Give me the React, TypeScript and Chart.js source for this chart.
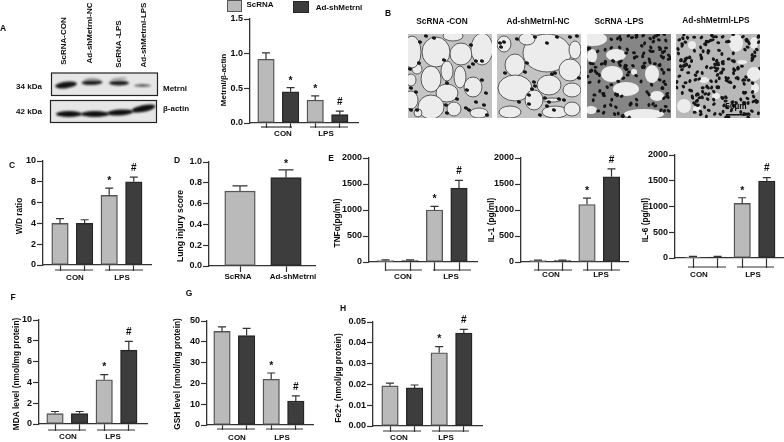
import React, { useEffect, useRef } from "react";
import { Chart, registerables } from "chart.js";

Chart.register(...registerables);

const FONT = '"Liberation Sans", Arial, sans-serif';
const INK = "#0c0c0c";
const AXIS = "#333333";
const LIGHT = "#bababa";
const LIGHT_EDGE = "#565656";
const DARK = "#3d3d3d";
const DARK_EDGE = "#262626";

const seriesNames = ["ScRNA", "Ad-shMetrnl"];
const conditions = ["CON", "LPS"];

const metrnlValues = [0.92, 0.45, 0.33, 0.12];
const metrnlErrTops = [1.01, 0.51, 0.39, 0.17];
const metrnlMarks = ["", "*", "*", "#"];

const wdValues = [4, 4, 6.7, 8];
const wdErrTops = [4.45, 4.35, 7.4, 8.45];
const wdMarks = ["", "", "*", "#"];

const lungValues = [0.72, 0.85];
const lungErrTops = [0.77, 0.925];
const lungMarks = ["", "*"];

const tnfValues = [25, 25, 1000, 1420];
const tnfErrTops = [40, 40, 1070, 1570];
const tnfMarks = ["", "", "*", "#"];

const il1Values = [25, 25, 1105, 1640];
const il1ErrTops = [35, 35, 1230, 1790];
const il1Marks = ["", "", "*", "#"];

const il6Values = [20, 20, 1060, 1495];
const il6ErrTops = [30, 30, 1170, 1560];
const il6Marks = ["", "", "*", "#"];

const mdaValues = [1, 1, 4.25, 7.1];
const mdaErrTops = [1.2, 1.2, 4.75, 7.95];
const mdaMarks = ["", "", "*", "#"];

const gshValues = [45, 43, 22, 11.5];
const gshErrTops = [47.2, 46.5, 25, 14];
const gshMarks = ["", "", "*", "#"];

const feValues = [0.0193, 0.0183, 0.0352, 0.0447];
const feErrTops = [0.0206, 0.0197, 0.0382, 0.0465];
const feMarks = ["", "", "*", "#"];

type Panel = {
  title: string; titleX: number; titleY: number; titleSize: number;
  values: number[]; errTops: number[]; marks: string[];
  max: number; step: number; decimals: number;
  axisX: number; right: number; yTop: number; y0: number;
  c1: number; pitch: number; barW: number; capW: number; tickLen: number;
  spans: number[][]; labelY: number; labels: { t: string; x: number }[];
  markOffset: number;
};

const twoGroups = (a: number, b: number) => [
  { t: conditions[0], x: a },
  { t: conditions[1], x: b },
];

const panels: Panel[] = [
  { title: "Metrnl/β-actin", titleX: 224, titleY: 80, titleSize: 8, values: metrnlValues, errTops: metrnlErrTops, marks: metrnlMarks,
    max: 1.5, step: 0.5, decimals: 1, axisX: 250, right: 358, yTop: 19, y0: 123, c1: 266, pitch: 24.6, barW: 16.5, capW: 8,
    tickLen: 4, spans: [[261, 292], [310, 348]], labelY: 134, labels: twoGroups(283, 326), markOffset: 9 },
  { title: "W/D ratio", titleX: 20, titleY: 216, titleSize: 8.3, values: wdValues, errTops: wdErrTops, marks: wdMarks,
    max: 10, step: 2, decimals: 0, axisX: 43, right: 151, yTop: 161, y0: 265, c1: 60, pitch: 24.6, barW: 16.5, capW: 8,
    tickLen: 5, spans: [[55, 93], [105, 143]], labelY: 278, labels: twoGroups(75, 122), markOffset: 9 },
  { title: "Lung injury score", titleX: 181, titleY: 226, titleSize: 8.6, values: lungValues, errTops: lungErrTops, marks: lungMarks,
    max: 1, step: 0.2, decimals: 1, axisX: 209, right: 315, yTop: 162, y0: 266, c1: 240, pitch: 46, barW: 30.5, capW: 15,
    tickLen: 5, spans: [], labelY: 277, labels: [{ t: seriesNames[0], x: 238 }, { t: seriesNames[1], x: 293 }], markOffset: 8 },
  { title: "TNFα(pg/ml)", titleX: 338, titleY: 223, titleSize: 8.3, values: tnfValues, errTops: tnfErrTops, marks: tnfMarks,
    max: 2000, step: 500, decimals: 0, axisX: 369, right: 477, yTop: 158, y0: 262, c1: 385.5, pitch: 24.5, barW: 16.5, capW: 8,
    tickLen: 8, spans: [[385, 422], [433, 471]], labelY: 277, labels: twoGroups(403, 451), markOffset: 9 },
  { title: "IL-1 (pg/ml)", titleX: 492, titleY: 220, titleSize: 8.3, values: il1Values, errTops: il1ErrTops, marks: il1Marks,
    max: 2000, step: 500, decimals: 0, axisX: 521, right: 628, yTop: 158, y0: 262, c1: 538, pitch: 24.5, barW: 16.5, capW: 8,
    tickLen: 8, spans: [[534, 572], [583, 620]], labelY: 275, labels: twoGroups(551, 601), markOffset: 9 },
  { title: "IL-6 (pg/ml)", titleX: 646, titleY: 220, titleSize: 8.3, values: il6Values, errTops: il6ErrTops, marks: il6Marks,
    max: 2000, step: 500, decimals: 0, axisX: 675, right: 783, yTop: 155, y0: 258, c1: 693, pitch: 24.6, barW: 16.5, capW: 8,
    tickLen: 9, spans: [[688, 726], [737, 774]], labelY: 275, labels: twoGroups(699, 753), markOffset: 9 },
  { title: "MDA level (nmol/mg protein)", titleX: 17, titleY: 374, titleSize: 8.3, values: mdaValues, errTops: mdaErrTops, marks: mdaMarks,
    max: 10, step: 2, decimals: 0, axisX: 39, right: 147, yTop: 320, y0: 424, c1: 55, pitch: 24.6, barW: 16.5, capW: 8,
    tickLen: 6, spans: [[48, 86], [97, 135]], labelY: 437, labels: twoGroups(68, 113), markOffset: 9 },
  { title: "GSH level (nmol/mg protein)", titleX: 178, titleY: 374, titleSize: 8.3, values: gshValues, errTops: gshErrTops, marks: gshMarks,
    max: 50, step: 10, decimals: 0, axisX: 207, right: 313, yTop: 321, y0: 425, c1: 222, pitch: 24.6, barW: 16.5, capW: 8,
    tickLen: 4, spans: [[217, 255], [266, 303]], labelY: 438, labels: twoGroups(237, 282), markOffset: 9 },
  { title: "Fe2+ (nmol/µg protein)", titleX: 339, titleY: 378, titleSize: 8.3, values: feValues, errTops: feErrTops, marks: feMarks,
    max: 0.05, step: 0.01, decimals: 2, axisX: 373, right: 482, yTop: 322, y0: 426, c1: 390, pitch: 24.6, barW: 16.5, capW: 8,
    tickLen: 5, spans: [[383, 421], [432, 469]], labelY: 438, labels: twoGroups(399, 446), markOffset: 9 },
];

const PAD_TOP = 12;
const X_AXIS_H = 26;

function panelPlugin(p: Panel, left: number, top: number) {
  return {
    id: "panelMarks",
    afterDatasetsDraw(chart: any) {
      const { ctx, scales } = chart;
      const xs = scales.x;
      const ys = scales.y;
      ctx.save();
      ctx.strokeStyle = AXIS;
      ctx.fillStyle = INK;
      ctx.lineWidth = 1.2;
      p.values.forEach((v, i) => {
        const x = xs.getPixelForValue(i + 1);
        const yv = ys.getPixelForValue(v);
        const ye = ys.getPixelForValue(p.errTops[i]);
        ctx.beginPath();
        ctx.moveTo(x, yv);
        ctx.lineTo(x, ye);
        ctx.moveTo(x - p.capW / 2, ye);
        ctx.lineTo(x + p.capW / 2, ye);
        ctx.stroke();
        if (p.marks[i]) {
          ctx.font = `bold ${p.marks[i] === "#" ? 10 : 10.5}px ${FONT}`;
          ctx.textAlign = "center";
          ctx.textBaseline = "middle";
          ctx.fillText(p.marks[i], x, ye - p.markOffset + (p.marks[i] === "*" ? 2 : 0));
        }
      });
      const yg = p.y0 - top + p.tickLen;
      p.spans.forEach(([a, b]) => {
        ctx.beginPath();
        ctx.moveTo(a - left, yg);
        ctx.lineTo(b - left, yg);
        ctx.stroke();
      });
      ctx.font = `bold 8px ${FONT}`;
      ctx.textAlign = "center";
      ctx.textBaseline = "middle";
      p.labels.forEach((l) => ctx.fillText(l.t, l.x - left, p.labelY - top));
      ctx.translate(p.titleX - left, p.titleY - top);
      ctx.rotate(-Math.PI / 2);
      ctx.font = `bold ${p.titleSize}px ${FONT}`;
      ctx.fillText(p.title, 0, 0);
      ctx.restore();
    },
  };
}

function BarPanel({ p }: { p: Panel }) {
  const ref = useRef<HTMLCanvasElement>(null);
  const left = p.titleX - 6;
  const top = p.yTop - PAD_TOP;
  const width = p.right - left + 2;
  const height = p.y0 - p.yTop + PAD_TOP + X_AXIS_H;
  useEffect(() => {
    const xMin = 1 - (p.c1 - p.axisX) / p.pitch;
    const xMax = 1 + (p.right - p.c1) / p.pitch;
    const toPoints = (odd: number) =>
      p.values
        .map((y, i) => ({ x: i + 1, y, i }))
        .filter((d) => d.i % 2 === odd)
        .map(({ x, y }) => ({ x, y }));
    const chart = new Chart(ref.current as HTMLCanvasElement, {
      type: "bar",
      data: {
        datasets: [
          { label: seriesNames[0], data: toPoints(0), backgroundColor: LIGHT, borderColor: LIGHT_EDGE },
          { label: seriesNames[1], data: toPoints(1), backgroundColor: DARK, borderColor: DARK_EDGE },
        ],
      },
      options: {
        responsive: false,
        animation: false,
        layout: { padding: { top: PAD_TOP, left: 0, right: 2, bottom: 0 } },
        datasets: { bar: { grouped: false, barThickness: p.barW, borderWidth: 1.4, borderSkipped: false } },
        plugins: { legend: { display: false }, tooltip: { enabled: false } },
        scales: {
          x: {
            type: "linear",
            offset: false,
            min: xMin,
            max: xMax,
            border: { color: AXIS, width: 1.3 },
            grid: { offset: false, drawOnChartArea: false, drawTicks: true, tickLength: p.tickLen + 1, tickColor: AXIS, tickWidth: 1.2 },
            ticks: { display: false },
            afterBuildTicks: (ax: any) => {
              ax.ticks = p.values.map((_, i) => ({ value: i + 1 }));
            },
            afterFit: (ax: any) => {
              ax.height = X_AXIS_H;
            },
          },
          y: {
            type: "linear",
            min: 0,
            max: p.max,
            border: { color: AXIS, width: 1.3 },
            grid: { drawOnChartArea: false, tickLength: 6, tickColor: AXIS, tickWidth: 1.2 },
            ticks: {
              stepSize: p.step,
              padding: 1,
              color: INK,
              font: { family: FONT, weight: "bold", size: 9 },
              callback: (v: any) => Number(v).toFixed(p.decimals),
            },
            afterFit: (ax: any) => {
              ax.width = p.axisX - left;
            },
          },
        },
      },
      plugins: [panelPlugin(p, left, top)],
    } as any);
    return () => chart.destroy();
  }, []);
  return (
    <canvas
      ref={ref}
      width={width}
      height={height}
      style={{ position: "absolute", left, top, width, height }}
    />
  );
}

// ---- micrograph and blot artwork (not chart data) ----
type Blob = number[];
const photoRects = [408, 497, 587, 676];
const alveoli: Blob[][] = [
  [[28,18,14,15],[53,20,11,11],[23,45,10,13],[39,37,6,10],[52,43,6,11],[39,59,11,9],[65,53,9,10],[9,35,5,5],[23,73,13,12],[46,75,7,7],[3,46,5,6],[4,18,9,16],[74,15,11,16],[3,66,7,9],[71,79,9,5],[45,2,10,5],[10,79,4,4]],
  [[18,31,10,11],[50,19,24,19],[18,54,17,13],[52,51,12,10],[73,36,11,11],[37,66,9,10],[75,56,9,7],[7,10,7,8],[78,16,6,9],[13,78,11,6],[58,78,13,6],[55,66,9,2],[30,5,8,6],[75,75,8,7]],
  [[29,21,10,6],[6,5,14,7],[25,40,11,8],[65,40,7,9],[39,55,13,7],[70,62,7,5],[57,80,20,5],[5,22,5,7],[47,38,3,3],[4,76,6,4]],
  [[60,9,7,9],[78,40,7,7],[78,9,4,6],[16,11,4,4],[8,72,7,7],[79,54,4,5],[28,46,5,3],[21,75,4,3],[66,28,5,2],[40,62,4,3]],
];
const edgeNuclei: Blob[][] = [
  [[18,2],[26,4],[12,8],[11,29],[2,35],[3,54],[8,58],[63,11],[68,27],[74,27],[39,49],[36,26],[38,71],[39,79],[58,74],[61,76],[49,65],[74,46],[78,59],[68,68],[76,71],[79,81],[9,76],[3,76],[59,56],[65,30],[61,33]],
  [[3,9],[7,8],[20,5],[38,3],[50,9],[60,3],[30,29],[28,38],[8,39],[37,48],[38,52],[35,55],[22,68],[32,70],[48,64],[50,72],[57,76],[67,66],[82,44],[43,81],[32,61],[58,39],[55,40],[80,2],[73,3],[4,13],[52,68],[62,65]],
];
const frac = (v: number) => v - Math.floor(v);

function PhotoLayer() {
  const ref = useRef<HTMLCanvasElement>(null);
  useEffect(() => {
    const c = ref.current as HTMLCanvasElement;
    const ctx = c.getContext("2d") as CanvasRenderingContext2D;
    const S = 84;
    const tissues = ["#c4c4c4", "#c4c4c4", "#868686", "#b8b8b8"];
    const nucleiCount = [0, 0, 190, 230];
    photoRects.forEach((px, k) => {
      ctx.save();
      ctx.beginPath();
      ctx.rect(px, 34, S, S);
      ctx.clip();
      ctx.fillStyle = tissues[k];
      ctx.fillRect(px, 34, S, S);
      ctx.filter = "blur(0.6px)";
      ctx.fillStyle = "#ececec";
      ctx.strokeStyle = k < 2 ? "#5a5a5a" : "#777";
      ctx.lineWidth = 1;
      alveoli[k].forEach(([x, y, rx, ry]) => {
        ctx.beginPath();
        ctx.ellipse(px + x, 34 + y, rx, ry, 0, 0, Math.PI * 2);
        ctx.fill();
        if (k < 2) ctx.stroke();
      });
      ctx.fillStyle = "#161616";
      if (k < 2) {
        edgeNuclei[k].forEach(([x, y]) => {
          ctx.beginPath();
          ctx.ellipse(px + x, 34 + y, 2.1, 1.7, 0.4, 0, Math.PI * 2);
          ctx.fill();
        });
      } else {
        for (let i = 1; i <= nucleiCount[k]; i++) {
          const x = frac(Math.sin(i * 12.9898 + k) * 43758.5453) * S;
          const y = frac(Math.sin(i * 78.233 + k) * 24634.6345) * S;
          const inside = alveoli[k].some(([ax, ay, rx, ry]) => ((x - ax) / rx) ** 2 + ((y - ay) / ry) ** 2 < 1);
          if (inside) continue;
          ctx.beginPath();
          ctx.ellipse(px + x, 34 + y, 2, 1.5, i, 0, Math.PI * 2);
          ctx.fill();
        }
      }
      ctx.restore();
    });

    // western blot
    const blot = (x: number, y: number, w: number, h: number, bands: number[][]) => {
      ctx.save();
      ctx.beginPath();
      ctx.rect(x, y, w, h);
      ctx.clip();
      ctx.fillStyle = "#e6e6e6";
      ctx.fillRect(x, y, w, h);
      ctx.filter = "blur(1px)";
      bands.forEach(([cx, cy, rx, ry, rot, shade]) => {
        ctx.fillStyle = `rgb(${shade},${shade},${shade})`;
        ctx.beginPath();
        ctx.ellipse(cx, cy, rx, ry, rot, 0, Math.PI * 2);
        ctx.fill();
      });
      ctx.restore();
      ctx.strokeStyle = "#222";
      ctx.lineWidth = 1.2;
      ctx.strokeRect(x, y, w, h);
    };
    blot(51.5, 73, 106, 22.5, [
      [66, 85, 11, 3.2, -0.12, 20],
      [92, 82.5, 10.5, 2.6, -0.03, 30],
      [92, 79.5, 8, 1.2, 0, 140],
      [119, 83, 10, 2.4, 0, 30],
      [119, 79, 8, 1.2, -0.1, 150],
      [142.5, 85.5, 8.5, 1.2, 0, 70],
    ]);
    blot(50.5, 100.5, 106, 22, [
      [69, 114, 13, 3, 0, 15],
      [95, 114, 14, 3, 0, 15],
      [120, 112.5, 13, 3, -0.06, 15],
      [143.5, 108.5, 12, 3.4, -0.2, 15],
    ]);
    // scale bar
    ctx.fillStyle = "#111";
    ctx.fillRect(726, 114, 22, 1.5);
  }, []);
  return <canvas ref={ref} width={784} height={442} style={{ position: "absolute", left: 0, top: 0 }} />;
}

type Txt = { t: string; x: number; y: number; size: number; rot?: boolean };
const labelTexts: Txt[] = [
  { t: "A", x: 3, y: 28, size: 8.5 },
  { t: "B", x: 388, y: 13, size: 8.5 },
  { t: "C", x: 12, y: 165, size: 8.5 },
  { t: "D", x: 177, y: 160, size: 8.5 },
  { t: "E", x: 331, y: 158, size: 8.5 },
  { t: "F", x: 13, y: 297, size: 8.5 },
  { t: "G", x: 189, y: 293, size: 8.5 },
  { t: "H", x: 343, y: 308, size: 8.5 },
  { t: "34 kDa", x: 29, y: 87, size: 8 },
  { t: "42 kDa", x: 29, y: 112, size: 8 },
  { t: "Metrnl", x: 175, y: 89, size: 8 },
  { t: "β-actin", x: 176, y: 109, size: 8 },
  { t: "ScRNA-CON", x: 64, y: 41, size: 8, rot: true },
  { t: "Ad-shMetrnl-NC", x: 90, y: 33, size: 8, rot: true },
  { t: "ScRNA -LPS", x: 119, y: 44, size: 8, rot: true },
  { t: "Ad-shMetrnl-LPS", x: 144, y: 35, size: 8, rot: true },
  { t: "ScRNA -CON", x: 442, y: 21, size: 8.3 },
  { t: "Ad-shMetrnl-NC", x: 538, y: 21, size: 8.3 },
  { t: "ScRNA -LPS", x: 619, y: 20.5, size: 8.3 },
  { t: "Ad-shMetrnl-LPS", x: 716, y: 20, size: 8.3 },
  { t: "50µm", x: 736, y: 106, size: 8.3 },
  { t: seriesNames[0], x: 260, y: 5, size: 8 },
  { t: seriesNames[1], x: 339, y: 8, size: 8 },
];

const legendBoxes = [
  { x: 227, y: 0, w: 15, h: 12, bg: LIGHT, edge: LIGHT_EDGE },
  { x: 293, y: 1, w: 16, h: 11.5, bg: DARK, edge: DARK_EDGE },
];

export default function App() {
  return (
    <div
      style={{
        position: "absolute", left: 0, top: 0, width: 784, height: 442, overflow: "hidden",
        background: "#fff", fontFamily: FONT, filter: "blur(0.25px)",
      }}
    >
      <PhotoLayer />
      {panels.map((p) => (
        <BarPanel key={p.title} p={p} />
      ))}
      {legendBoxes.map((b, i) => (
        <div
          key={i}
          style={{
            position: "absolute", left: b.x, top: b.y, width: b.w, height: b.h,
            background: b.bg, border: `1px solid ${b.edge}`, boxSizing: "border-box",
          }}
        />
      ))}
      {labelTexts.map((l) => (
        <span
          key={l.t + l.x}
          style={{
            position: "absolute", left: l.x, top: l.y, fontSize: l.size, fontWeight: "bold", color: INK,
            whiteSpace: "nowrap", lineHeight: 1,
            transform: `translate(-50%,-50%)${l.rot ? " rotate(-90deg)" : ""}`,
          }}
        >
          {l.t}
        </span>
      ))}
    </div>
  );
}
